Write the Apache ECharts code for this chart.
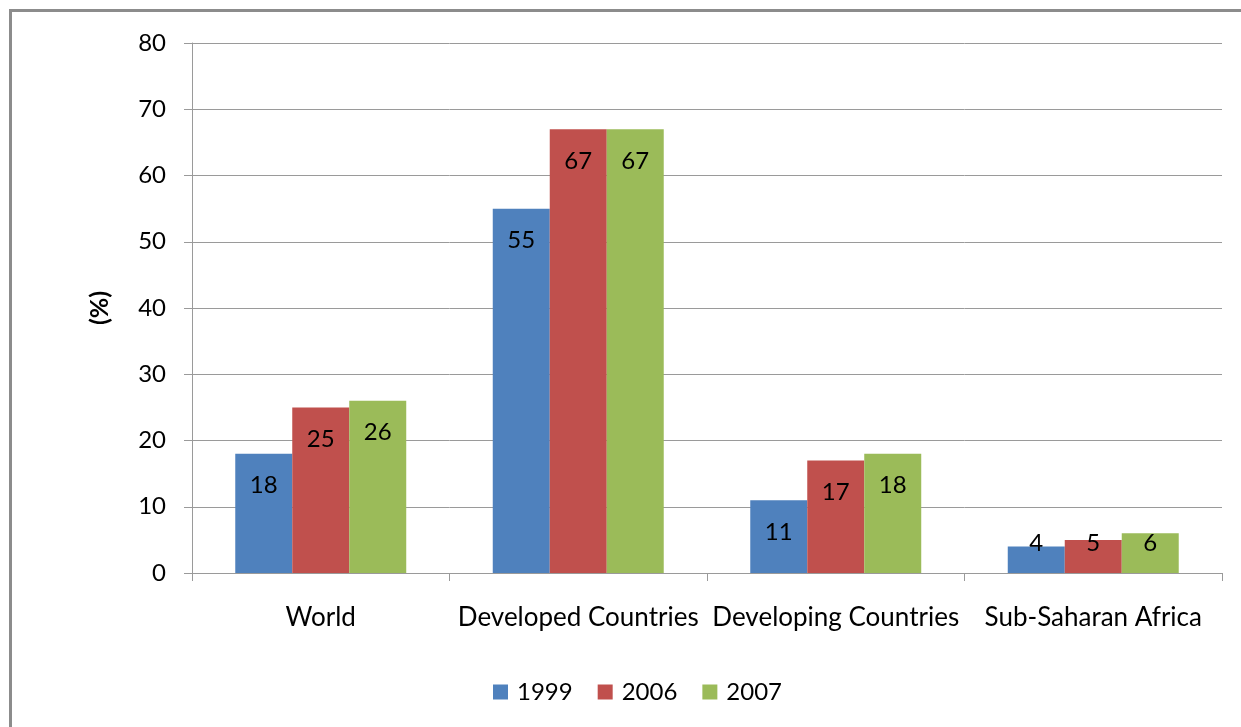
<!DOCTYPE html>
<html>
<head>
<meta charset="utf-8">
<script src="https://cdn.jsdelivr.net/npm/echarts@6/dist/echarts.min.js"></script>
<style>html,body{margin:0;padding:0;background:#fff;}#c{width:1241px;height:727px;}</style>
</head>
<body>
<div id="c"></div>
<script>
const categories = ['World', 'Developed Countries', 'Developing Countries', 'Sub-Saharan Africa'];
const seriesNames = ['1999', '2006', '2007'];
const v1999 = [18, 55, 11, 4];
const v2006 = [25, 67, 17, 5];
const v2007 = [26, 67, 18, 6];
const yTicks = [0, 10, 20, 30, 40, 50, 60, 70, 80];
const colors = ['#4F81BD', '#C0504D', '#9BBB59'];

const FONT = 'Lato';
const FS = 24;

function makeData(vals) {
  return vals.map(v => {
    if (v < 8) {
      return { value: v, label: { position: 'insideBottom', distance: 18 } };
    }
    return { value: v };
  });
}

const allVals = [v1999, v2006, v2007];
const chart = echarts.init(document.getElementById('c'), null, { renderer: 'canvas' });
chart.setOption({
  animation: false,
  backgroundColor: '#fff',
  color: colors,
  graphic: [{
    type: 'rect',
    shape: { x: 10.5, y: 10.5, width: 1400, height: 900 },
    style: { fill: 'none', stroke: '#8c8c8c', lineWidth: 3 },
    silent: true
  }],
  grid: { left: 192, right: 19, top: 43, bottom: 154, containLabel: false },
  legend: {
    data: seriesNames,
    bottom: 23,
    left: 493,
    itemWidth: 15,
    itemHeight: 15,
    itemGap: 25,
    icon: 'rect',
    padding: 0,
    textStyle: { fontFamily: FONT, fontSize: FS, color: '#000', padding: [0, 0, 0, 4] }
  },
  xAxis: {
    type: 'category',
    data: categories,
    axisLine: { lineStyle: { color: '#9a9a9a', width: 1 } },
    axisTick: { show: true, length: 8, lineStyle: { color: '#9a9a9a' } },
    axisLabel: { fontFamily: FONT, fontSize: 26, color: '#000', margin: 32, interval: 0 }
  },
  yAxis: {
    type: 'value',
    min: yTicks[0],
    max: yTicks[yTicks.length - 1],
    interval: yTicks[1] - yTicks[0],
    name: '(%)',
    nameLocation: 'middle',
    nameRotate: 90,
    nameGap: 80,
    nameTextStyle: { fontFamily: FONT, fontSize: 25, fontWeight: 'bold', color: '#000' },
    axisLine: { show: true, lineStyle: { color: '#9a9a9a', width: 1 } },
    axisTick: { show: true, length: 8, lineStyle: { color: '#9a9a9a' } },
    axisLabel: { fontFamily: FONT, fontSize: FS, color: '#000', margin: 26 },
    splitLine: { show: true, lineStyle: { color: '#9a9a9a', width: 1 } }
  },
  series: seriesNames.map((name, i) => ({
    name: name,
    type: 'bar',
    data: makeData(allVals[i]),
    barGap: '0%',
    barCategoryGap: '33.6%',
    label: {
      show: true,
      position: 'insideTop',
      distance: 20,
      fontFamily: FONT,
      fontSize: FS,
      color: '#000'
    }
  }))
});
</script>
</body>
</html>
